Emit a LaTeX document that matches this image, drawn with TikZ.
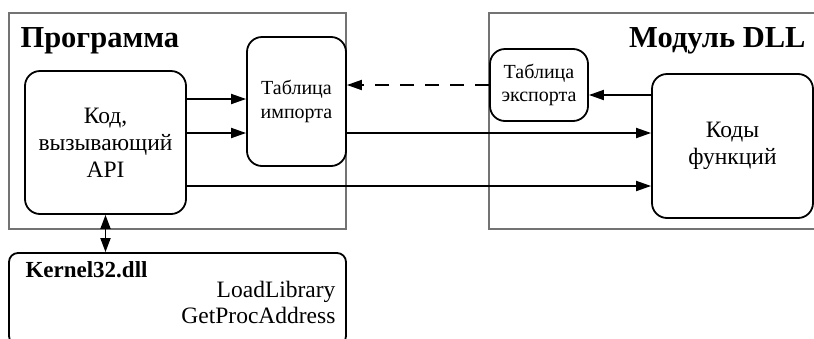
\documentclass[tikz,border=0pt]{standalone}
\usepackage{fontspec}
\setmainfont{Liberation Serif}
\usetikzlibrary{arrows.meta}

\begin{document}
\begin{tikzpicture}[x=1pt, y=-1pt,
    modul/.style={draw=black!55, line width=1.4pt, inner sep=0pt},
    blok/.style={draw, line width=1.8pt, rounded corners=15pt, align=center, inner sep=0pt},
    arr/.style={line width=1.8pt, -{Triangle[length=15pt, width=10pt]}},
    dblarr/.style={line width=1.8pt, {Triangle[length=14pt, width=10pt]}-{Triangle[length=14pt, width=10pt]}},
    big/.style={font=\fontsize{23.5}{27}\selectfont},
    small/.style={font=\fontsize{20}{23.5}\selectfont},
    title/.style={font=\fontsize{30.5}{33}\selectfont\bfseries}]
    %%%%% START %%%%%

    \clip (0,0) rectangle (814,338);
    \fill[white] (0,0) rectangle (814,338);

    % outer modules
    \node[modul, minimum width=337pt, minimum height=216pt] (prog) at (177.5,121) {};
    \node[modul, minimum width=360pt, minimum height=216pt] (dll) at (669,121) {};
    \node[title, anchor=base west] (progtitle) at (17,47) {Программа};
    \node[title, anchor=base east] (dlltitle) at (809,47) {Модуль DLL};

    % boxes
    \node[blok, big, minimum width=161pt, minimum height=143pt] (code) at (105.5,142.5) {Код,\\вызывающий\\API};
    \node[blok, small, minimum width=99pt, minimum height=129pt] (imp) at (296.5,101.5) {Таблица\\импорта};
    \node[blok, small, minimum width=98pt, minimum height=72pt] (exp) at (539,85) {Таблица\\экспорта};
    \node[blok, big, minimum width=161pt, minimum height=144pt] (func) at (732.5,146) {Коды\\функций};

    \node[blok, rounded corners=9pt, minimum width=337pt, minimum height=92pt] (kern) at (177.5,299) {};
    \node[anchor=base west, font=\fontsize{23}{27}\selectfont\bfseries] (kerntitle) at (22,277) {Kernel32.dll};
    \node[big, anchor=base east] (loadlib) at (339,297) {LoadLibrary};
    \node[big, anchor=base east] (getproc) at (339,323) {GetProcAddress};

    % rows of the connectors
    \coordinate (r1) at (0,99);
    \coordinate (r2) at (0,133);
    \coordinate (r3) at (0,186);
    \coordinate (r4) at (0,85);
    \coordinate (r5) at (0,95);

    \draw[arr] (code.east |- r1) -- (imp.west |- r1);
    \draw[arr] (code.east |- r2) -- (imp.west |- r2);
    \draw[arr] (imp.east |- r2) -- (func.west |- r2);
    \draw[arr] (code.east |- r3) -- (func.west |- r3);
    \draw[arr, dash pattern=on 14pt off 11pt] (exp.west |- r4) -- (imp.east |- r4);
    \draw[arr] (func.west |- r5) -- (exp.east |- r5);
    \draw[dblarr] (code.south) -- (kern.north -| code.south);

    %%%%% END %%%%%
\end{tikzpicture}
\end{document}
